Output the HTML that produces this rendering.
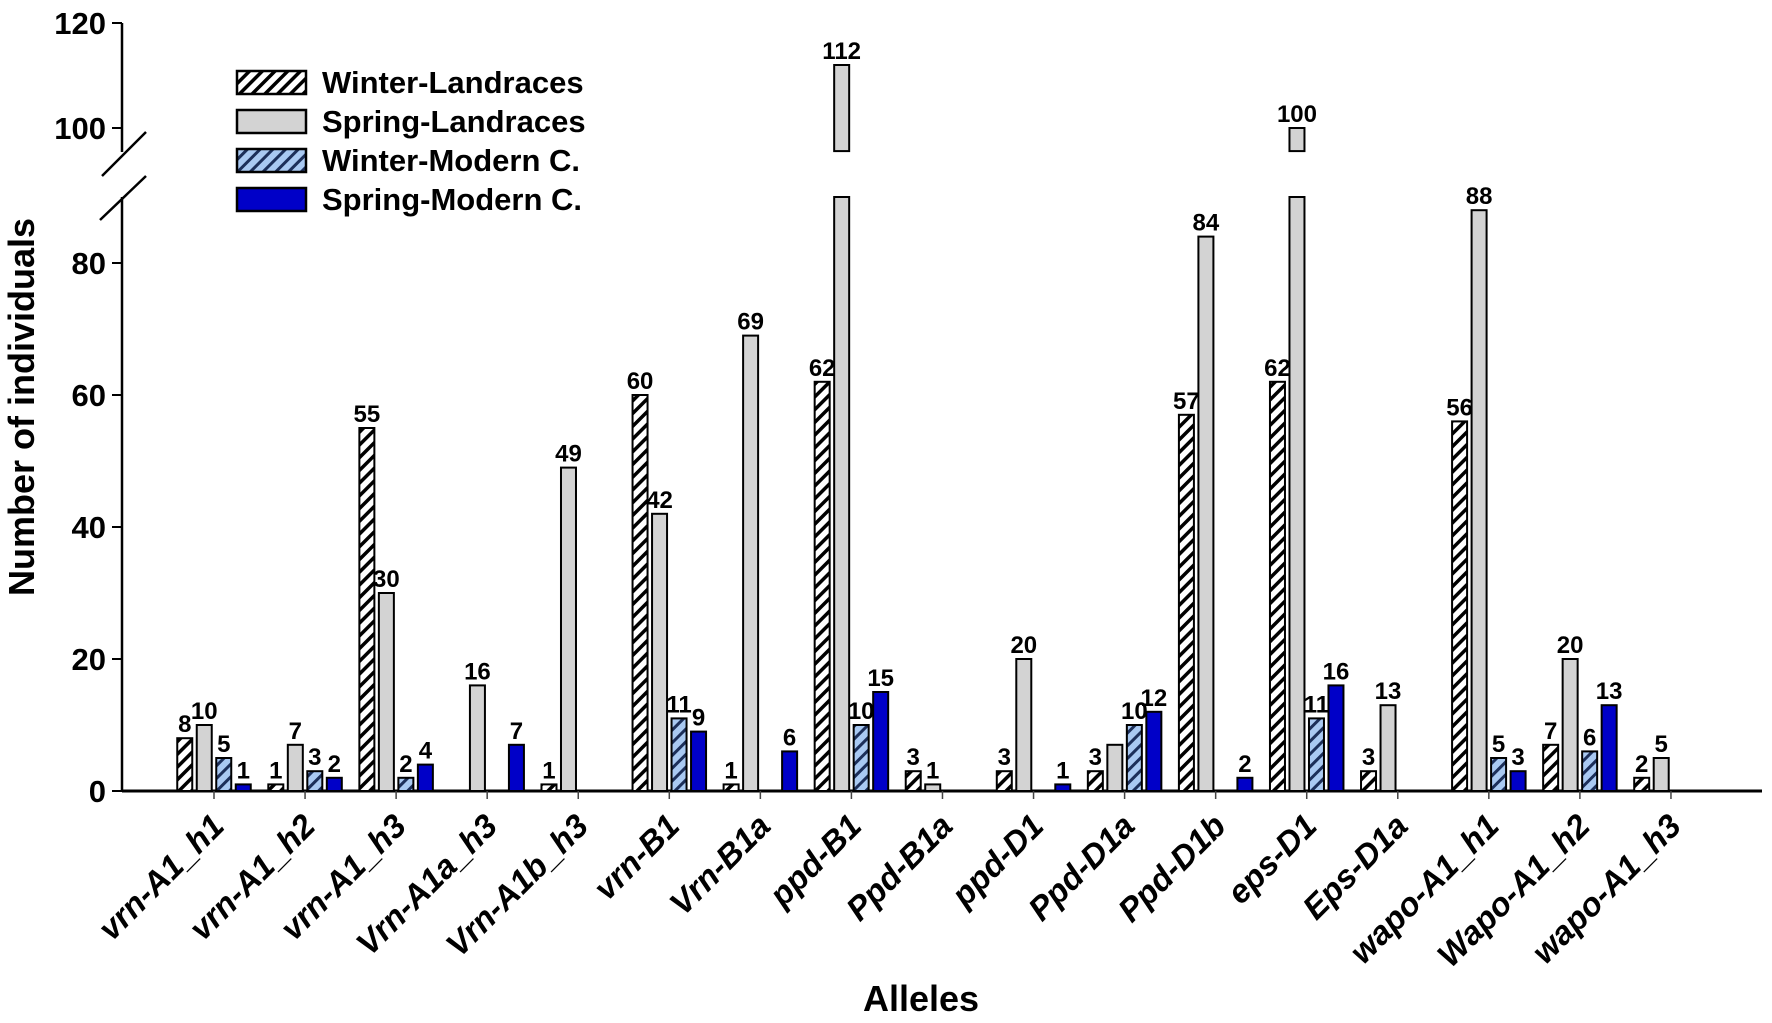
<!DOCTYPE html>
<html><head><meta charset="utf-8">
<style>
html,body{margin:0;padding:0;background:#fff;}
svg{display:block;font-family:"Liberation Sans",Arial,sans-serif;}
</style></head>
<body>
<svg id="chart" width="1772" height="1023" viewBox="0 0 1772 1023" xmlns="http://www.w3.org/2000/svg">
<defs>
<pattern id="hatchW" patternUnits="userSpaceOnUse" width="9" height="9" patternTransform="rotate(45)">
<rect width="9" height="9" fill="#fff"/><rect x="0" y="0" width="3.5" height="9" fill="#000"/>
</pattern>
<pattern id="hatchB" patternUnits="userSpaceOnUse" width="9" height="9" patternTransform="rotate(45)">
<rect width="9" height="9" fill="#a9c9f2"/><rect x="0" y="0" width="3" height="9" fill="#1c2f5a"/>
</pattern>
</defs>
<g id="axes"></g>
<g id="bars"></g>
<g id="legend"></g>
</svg>
<script>
const categories = ["vrn-A1_h1","vrn-A1_h2","vrn-A1_h3","Vrn-A1a_h3","Vrn-A1b_h3","vrn-B1","Vrn-B1a","ppd-B1","Ppd-B1a","ppd-D1","Ppd-D1a","Ppd-D1b","eps-D1","Eps-D1a","wapo-A1_h1","Wapo-A1_h2","wapo-A1_h3"];
const winterLandraces = [8,1,55,0,1,60,1,62,3,3,3,57,62,3,56,7,2];
const springLandraces = [10,7,30,16,49,42,69,112,1,20,7,84,100,13,88,20,5];
const winterModern = [5,3,2,0,0,11,0,10,0,0,10,0,11,0,5,6,0];
const springModern = [1,2,4,7,0,9,6,15,0,1,12,2,16,0,3,13,0];
const lowerTicks = [0,20,40,60,80];
const upperTicks = [100,120];
const seriesNames = ["Winter-Landraces","Spring-Landraces","Winter-Modern C.","Spring-Modern C."];

const NS="http://www.w3.org/2000/svg";
const fills=["url(#hatchW)","#d3d3d3","url(#hatchB)","#0000c8"];
const keys=["winter-landraces","spring-landraces","winter-modern","spring-modern"];
const series=[winterLandraces,springLandraces,winterModern,springModern];
const axisX=122, baseY=791, lowScale=6.6, breakLow=90, upScale=5.25, breakHigh=95.6;
const x0=214, gStep=91.06, barW=15, barPitch=19.5;
function yLow(v){return baseY - v*lowScale;}
function yUp(v){return 128 - (v-100)*upScale;}
function xGroup(i){return x0 + i*gStep;}
function xBar(i,s){return xGroup(i) + (s-2)*barPitch + (barPitch-barW)/2;}
function mk(tag,attrs,parent){const e=document.createElementNS(NS,tag);for(const k in attrs)e.setAttribute(k,attrs[k]);parent.appendChild(e);return e;}
const axes=document.getElementById('axes'), bars=document.getElementById('bars'), legend=document.getElementById('legend');

let a=mk('line',{x1:axisX,y1:baseY,x2:axisX,y2:yLow(breakLow),stroke:'#000','stroke-width':2.5},axes);


a=mk('line',{x1:axisX,y1:yUp(120),x2:axisX,y2:152,stroke:'#000','stroke-width':2.5},axes);


a=mk('line',{x1:102,y1:176,x2:146,y2:132,stroke:'#000','stroke-width':2.5},axes);


a=mk('line',{x1:100,y1:220,x2:146,y2:176,stroke:'#000','stroke-width':2.5},axes);


a=mk('line',{x1:axisX,y1:baseY,x2:1762,y2:baseY,stroke:'#000','stroke-width':3},axes);


lowerTicks.forEach(v=>{const y=yLow(v);
 const t=mk('line',{x1:axisX-10,y1:y,x2:axisX,y2:y,stroke:'#000','stroke-width':2},axes);
 
 
 const l=mk('text',{x:axisX-16,y:y+11,'text-anchor':'end','font-size':31,'font-weight':'bold'},axes);l.textContent=v;
 
 });
upperTicks.forEach(v=>{const y=yUp(v);
 const t=mk('line',{x1:axisX-10,y1:y,x2:axisX,y2:y,stroke:'#000','stroke-width':2},axes);
 
 
 const l=mk('text',{x:axisX-16,y:y+11,'text-anchor':'end','font-size':31,'font-weight':'bold'},axes);l.textContent=v;
 
 });
categories.forEach((c,i)=>{const x=xGroup(i);
 const t=mk('line',{x1:x,y1:baseY,x2:x,y2:baseY+8,stroke:'#444','stroke-width':1.5},axes);
 
 
 const l=mk('text',{x:x+12,y:828,'text-anchor':'end','font-size':33,'font-weight':'bold','font-style':'italic',transform:`rotate(-45 ${x+12} 828)`},axes);
 l.textContent=c;
 
 });
let tt=mk('text',{x:34,y:407,'text-anchor':'middle','font-size':36,'font-weight':'bold',transform:'rotate(-90 34 407)'},axes);
tt.textContent='Number of individuals';


tt=mk('text',{x:921,y:1011,'text-anchor':'middle','font-size':36,'font-weight':'bold'},axes);
tt.textContent='Alleles';



const hideLabel={"10-1":true};
series.forEach((arr,s)=>{arr.forEach((v,i)=>{
 if(v<=0)return;
 const x=xBar(i,s);
 let topY;
 if(v>breakLow){
  const r1=mk('rect',{x:x,y:yLow(breakLow),width:barW,height:baseY-yLow(breakLow),fill:fills[s],stroke:'#000','stroke-width':2},bars);
  
  
  topY=yUp(v);
  const r2=mk('rect',{x:x,y:topY,width:barW,height:yUp(breakHigh)-topY,fill:fills[s],stroke:'#000','stroke-width':2},bars);
  
  
 } else {
  topY=yLow(v);
  const r=mk('rect',{x:x,y:topY,width:barW,height:baseY-topY,fill:fills[s],stroke:'#000','stroke-width':2},bars);
  
  
 }
 if(hideLabel[i+'-'+s])return;
 const l=mk('text',{x:x+barW/2,y:topY-6,'text-anchor':'middle','font-size':24,'font-weight':'bold'},bars);
 l.textContent=v;
 
 
});});

seriesNames.forEach((n,s)=>{const cy=82+s*39;
 const r=mk('rect',{x:237,y:cy-11,width:69,height:23,fill:fills[s],stroke:'#000','stroke-width':2.5},legend);
 
 
 const t=mk('text',{x:322,y:cy+11,'font-size':31,'font-weight':'bold'},legend);
 t.textContent=n;
 
 });
</script>
</body></html>
